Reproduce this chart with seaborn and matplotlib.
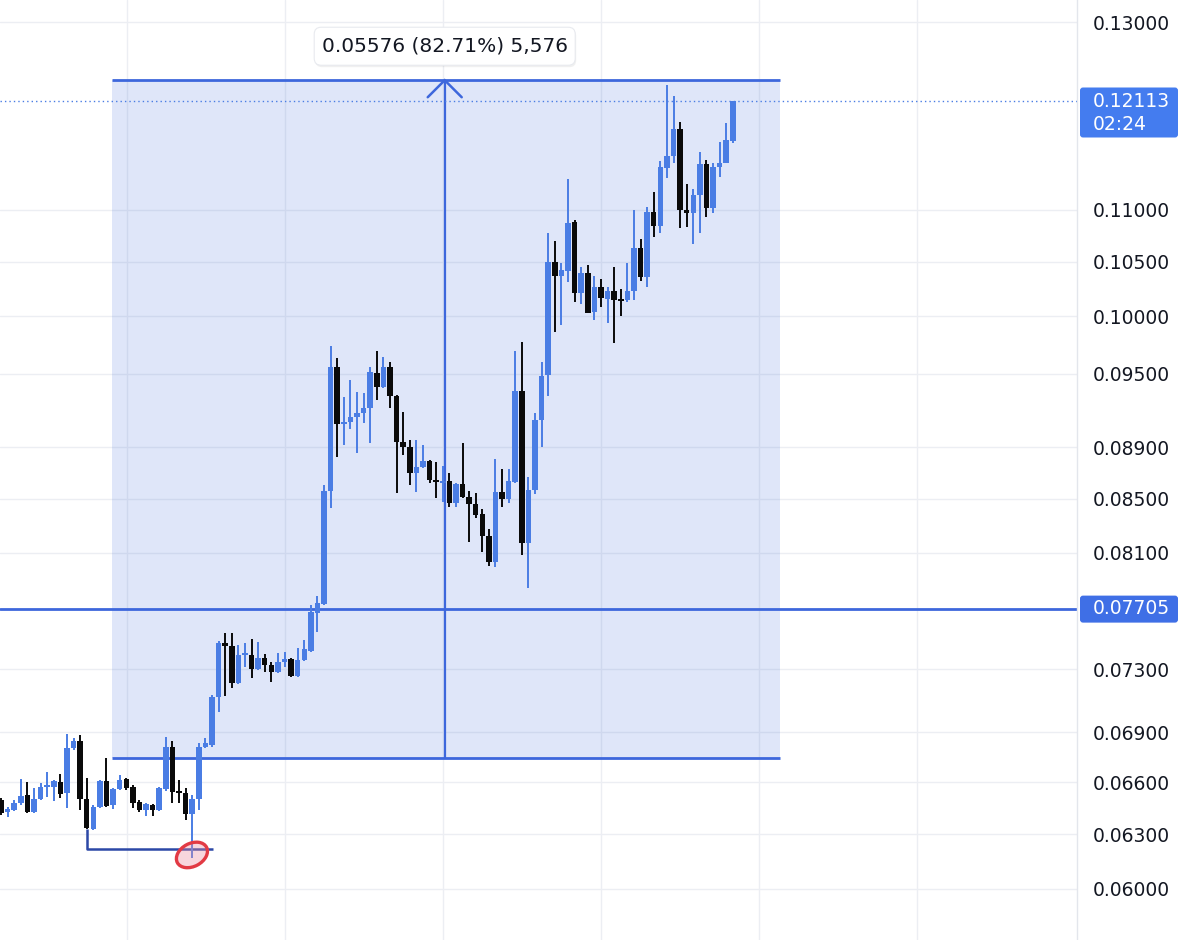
import numpy as np
import pandas as pd
import matplotlib
matplotlib.use("Agg")
import matplotlib.pyplot as plt
import seaborn as sns
from matplotlib.patches import FancyBboxPatch, Ellipse
from matplotlib.lines import Line2D
from matplotlib.transforms import IdentityTransform
from matplotlib.ticker import NullLocator

# ---------------- data ----------------
opens = [0.06496, 0.06427, 0.06438, 0.06478, 0.06525, 0.06427, 0.06502, 0.06572, 0.06572, 0.06601,
         0.06537, 0.06804, 0.06847, 0.06502, 0.06330, 0.06455, 0.06607, 0.06467, 0.06560, 0.06619,
         0.06572, 0.06484, 0.06438, 0.06467, 0.06438, 0.06560, 0.06810, 0.06548, 0.06537, 0.06415,
         0.06502, 0.06810, 0.06823, 0.07121, 0.07472, 0.07452, 0.07210, 0.07393, 0.07393, 0.07301,
         0.07373, 0.07327, 0.07281, 0.07347, 0.07366, 0.07255, 0.07360, 0.07419, 0.07675, 0.07737,
         0.08557, 0.09558, 0.09084, 0.09100, 0.09141, 0.09174, 0.09215, 0.09507, 0.09389, 0.09558,
         0.09314, 0.08940, 0.08900, 0.08696, 0.08742, 0.08789, 0.08642, 0.08618, 0.08634, 0.08466,
         0.08610, 0.08512, 0.08459, 0.08384, 0.08221, 0.08032, 0.08549, 0.08497, 0.08626, 0.09356,
         0.08169, 0.08565, 0.09117, 0.09490, 0.10497, 0.10366, 0.10413, 0.10879, 0.10210, 0.10394,
         0.10039, 0.10265, 0.10156, 0.10229, 0.10156, 0.10147, 0.10229, 0.10628, 0.10357, 0.10975,
         0.10839, 0.11415, 0.11538, 0.11819, 0.10995, 0.10966, 0.11143, 0.11456, 0.11015, 0.11425,
         0.11466, 0.11693]
highs = [0.06507, 0.06455, 0.06496, 0.06619, 0.06601, 0.06566, 0.06595, 0.06660, 0.06613, 0.06648,
         0.06890, 0.06865, 0.06884, 0.06625, 0.06467, 0.06613, 0.06744, 0.06566, 0.06642, 0.06625,
         0.06583, 0.06496, 0.06478, 0.06473, 0.06572, 0.06872, 0.06847, 0.06613, 0.06566, 0.06525,
         0.06835, 0.06865, 0.07133, 0.07485, 0.07539, 0.07539, 0.07459, 0.07472, 0.07499, 0.07479,
         0.07399, 0.07347, 0.07406, 0.07412, 0.07373, 0.07439, 0.07492, 0.07730, 0.07792, 0.08603,
         0.09739, 0.09635, 0.09306, 0.09448, 0.09347, 0.09339, 0.09558, 0.09696, 0.09644, 0.09601,
         0.09322, 0.09182, 0.08956, 0.08956, 0.08916, 0.08797, 0.08781, 0.08750, 0.08696, 0.08618,
         0.08931, 0.08557, 0.08542, 0.08421, 0.08272, 0.08805, 0.08727, 0.08727, 0.09696, 0.09774,
         0.08665, 0.09174, 0.09601, 0.10772, 0.10695, 0.10487, 0.11303, 0.10897, 0.10450, 0.10469,
         0.10366, 0.10339, 0.10265, 0.10450, 0.10247, 0.10487, 0.10995, 0.10714, 0.11024, 0.11173,
         0.11486, 0.12292, 0.12173, 0.11893, 0.11253, 0.11203, 0.11579, 0.11497, 0.11466, 0.11683,
         0.11882, 0.12113]
lows = [0.06409, 0.06398, 0.06432, 0.06467, 0.06421, 0.06421, 0.06496, 0.06513, 0.06490, 0.06507,
        0.06450, 0.06792, 0.06438, 0.06330, 0.06324, 0.06450, 0.06455, 0.06444, 0.06554, 0.06554,
        0.06450, 0.06427, 0.06404, 0.06404, 0.06432, 0.06548, 0.06478, 0.06478, 0.06381, 0.06168,
        0.06438, 0.06804, 0.06810, 0.07026, 0.07127, 0.07178, 0.07203, 0.07314, 0.07242, 0.07294,
        0.07281, 0.07216, 0.07275, 0.07314, 0.07249, 0.07249, 0.07353, 0.07412, 0.07546, 0.07730,
        0.08428, 0.08820, 0.08916, 0.09044, 0.08852, 0.09092, 0.08931, 0.09281, 0.09381, 0.09215,
        0.08542, 0.08837, 0.08603, 0.08549, 0.08734, 0.08618, 0.08504, 0.08474, 0.08436, 0.08436,
        0.08504, 0.08177, 0.08354, 0.08104, 0.08004, 0.07997, 0.08436, 0.08466, 0.08618, 0.08082,
        0.07848, 0.08534, 0.08900, 0.09314, 0.09861, 0.09923, 0.10311, 0.10129, 0.10111, 0.10030,
        0.09967, 0.10084, 0.09941, 0.09765, 0.10003, 0.10129, 0.10147, 0.10320, 0.10265, 0.10734,
        0.10772, 0.11313, 0.11466, 0.10820, 0.10830, 0.10667, 0.10772, 0.10927, 0.10966, 0.11323,
        0.11466, 0.11672]
closes = [0.06421, 0.06444, 0.06478, 0.06519, 0.06427, 0.06502, 0.06572, 0.06583, 0.06607, 0.06531,
          0.06804, 0.06847, 0.06502, 0.06336, 0.06455, 0.06607, 0.06461, 0.06560, 0.06613, 0.06566,
          0.06478, 0.06438, 0.06473, 0.06438, 0.06566, 0.06810, 0.06542, 0.06537, 0.06415, 0.06502,
          0.06810, 0.06835, 0.07121, 0.07472, 0.07452, 0.07210, 0.07393, 0.07406, 0.07301, 0.07373,
          0.07327, 0.07281, 0.07347, 0.07366, 0.07255, 0.07360, 0.07432, 0.07682, 0.07744, 0.08557,
          0.09558, 0.09084, 0.09100, 0.09141, 0.09174, 0.09215, 0.09516, 0.09389, 0.09558, 0.09314,
          0.08940, 0.08900, 0.08696, 0.08742, 0.08789, 0.08642, 0.08634, 0.08634, 0.08466, 0.08610,
          0.08512, 0.08459, 0.08376, 0.08221, 0.08032, 0.08549, 0.08497, 0.08634, 0.09356, 0.08169,
          0.08565, 0.09117, 0.09482, 0.10497, 0.10366, 0.10422, 0.10869, 0.10210, 0.10394, 0.10030,
          0.10265, 0.10165, 0.10229, 0.10147, 0.10150, 0.10229, 0.10628, 0.10357, 0.10975, 0.10839,
          0.11425, 0.11538, 0.11819, 0.10995, 0.10966, 0.11143, 0.11456, 0.11015, 0.11425, 0.11466,
          0.11704, 0.12113]

price_ticks = [0.06, 0.063, 0.066, 0.069, 0.073, 0.081, 0.085, 0.089, 0.095, 0.10, 0.105, 0.11, 0.13]
current_price = 0.12113
current_time = "02:24"
level_price = 0.07705
range_low = 0.06742
range_high = 0.12345
range_change = 0.05576
range_pct = 82.71
range_ticks = 5576
swing_low = 0.06218
circle_price = 0.06185

df = pd.DataFrame({"open": opens, "high": highs, "low": lows, "close": closes})
df["idx"] = np.arange(len(df))
df["up"] = df["close"] >= df["open"]

# ---------------- style ----------------
sns.set_theme(style="white")
plt.rcParams["font.family"] = ["DejaVu Sans"]

UP = "#4a7de4"
DOWN = "#0a0a0a"
LINE = "#3d67dc"
TXT = "#131722"

fig = plt.figure(figsize=(12, 9.4), dpi=100)
fig.patch.set_facecolor("white")
ax = fig.add_axes([0, 0, 1077 / 1200, 1])
ax.set_facecolor("white")
ax.set_yscale("log")
ax.set_ylim(0.05733, 0.13261)
ax.set_xlim(-0.152, 163.2)

# grid
ax.set_yticks(price_ticks)
ax.set_yticklabels([f"{v:.5f}" for v in price_ticks])
ax.yaxis.set_minor_locator(NullLocator())
ax.yaxis.tick_right()
ax.set_xticks([19.1, 43.1, 67.0, 91.0, 115.0, 139.0])
ax.set_xticklabels([])
ax.tick_params(axis="x", length=0)
ax.tick_params(axis="y", length=0, pad=11.5, labelsize=13.5, labelcolor=TXT)
ax.grid(True, color="#eceef3", lw=1.0, zorder=0)
ax.set_axisbelow(True)
for s in ["top", "left", "bottom"]:
    ax.spines[s].set_visible(False)
ax.spines["right"].set_color("#e3e6ec")
ax.spines["right"].set_linewidth(1.0)

# measurement range box
rx0, rx1, rxa = 16.8, 118.1, 67.3
ax.fill_between([rx0, rx1], range_low, range_high, color="#2a5bd7", alpha=0.15, lw=0, zorder=1)
ax.hlines([range_low, range_high], rx0, rx1, color=LINE, lw=2.0, zorder=2)
ax.vlines(rxa, range_low, range_high, color=LINE, lw=1.6, zorder=2)

# horizontal level and current price line
ax.axhline(level_price, color=LINE, lw=2.0, zorder=2)
ax.axhline(current_price, color="#4a7de4", lw=1.0, ls=(0, (1, 2.2)), zorder=2)

# candles
ratio_min = np.exp(1.8 / 1121)
wick_colors = [UP if u else DOWN for u in df["up"]]
ax.vlines(df["idx"], df["low"], df["high"], colors=wick_colors, lw=1.4, zorder=4)
tops = np.maximum(df["open"], df["close"])
bots = np.minimum(df["open"], df["close"])
bots = np.minimum(bots, tops / ratio_min)
ax.bar(df["idx"], tops - bots, bottom=bots, width=0.84, color=wick_colors, lw=0, zorder=5)

# bracket at the swing low
ax.plot([13, 13, 32.2], [lows[13], swing_low, swing_low], color="#2c48a6", lw=1.8,
        zorder=3, solid_capstyle="butt")

fig.canvas.draw()
ID = IdentityTransform()

# arrow chevron at top of measurement line
axp, ayp = ax.transData.transform((rxa, range_high))
fig.add_artist(Line2D([axp - 17, axp, axp + 17], [ayp - 17, ayp, ayp - 17], color=LINE, lw=1.8,
                      transform=ID, solid_joinstyle="miter"))

# red circle at the low
cxp, cyp = ax.transData.transform((28.96, circle_price))
fig.add_artist(Ellipse((cxp, cyp), 33, 23, angle=28, transform=ID, fc=(0.93, 0.55, 0.62, 0.35),
                       ec="#e23a44", lw=2.4, zorder=6))

# measurement label
bw, bh = 261, 38
bx = axp - bw / 2
by = ayp + 15
fig.add_artist(FancyBboxPatch((bx + 1, by - 2), bw, bh, boxstyle="round,pad=0,rounding_size=7",
                              transform=ID, fc=(0, 0, 0, 0.06), ec="none", zorder=7))
fig.add_artist(FancyBboxPatch((bx, by), bw, bh, boxstyle="round,pad=0,rounding_size=7",
                              transform=ID, fc="white", ec="#e8eaef", lw=0.8, zorder=8))
fig.text(axp, by + bh / 2, f"{range_change:.5f} ({range_pct:.2f}%) {range_ticks:,}",
         transform=ID, ha="center", va="center", fontsize=14.5, color=TXT, zorder=9)

# price-axis labels
xr = ax.transAxes.transform((1, 0))[0]
_, cp = ax.transData.transform((0, current_price))
fig.add_artist(FancyBboxPatch((xr + 3, cp - 36), 98, 50, boxstyle="round,pad=0,rounding_size=3",
                              transform=ID, fc="#447cef", ec="none", zorder=8))
fig.text(xr + 16, cp, f"{current_price:.5f}", transform=ID, ha="left", va="center",
         fontsize=13.5, color="white", zorder=9)
fig.text(xr + 16, cp - 23, current_time, transform=ID, ha="left", va="center",
         fontsize=13.5, color="white", zorder=9)

_, lp = ax.transData.transform((0, level_price))
fig.add_artist(FancyBboxPatch((xr + 3, lp - 14), 98, 27, boxstyle="round,pad=0,rounding_size=3",
                              transform=ID, fc="#3f6fe6", ec="none", zorder=8))
fig.text(xr + 16, lp, f"{level_price:.5f}", transform=ID, ha="left", va="center",
         fontsize=13.5, color="white", zorder=9)

fig.savefig("out.png", dpi=100, facecolor="white")
